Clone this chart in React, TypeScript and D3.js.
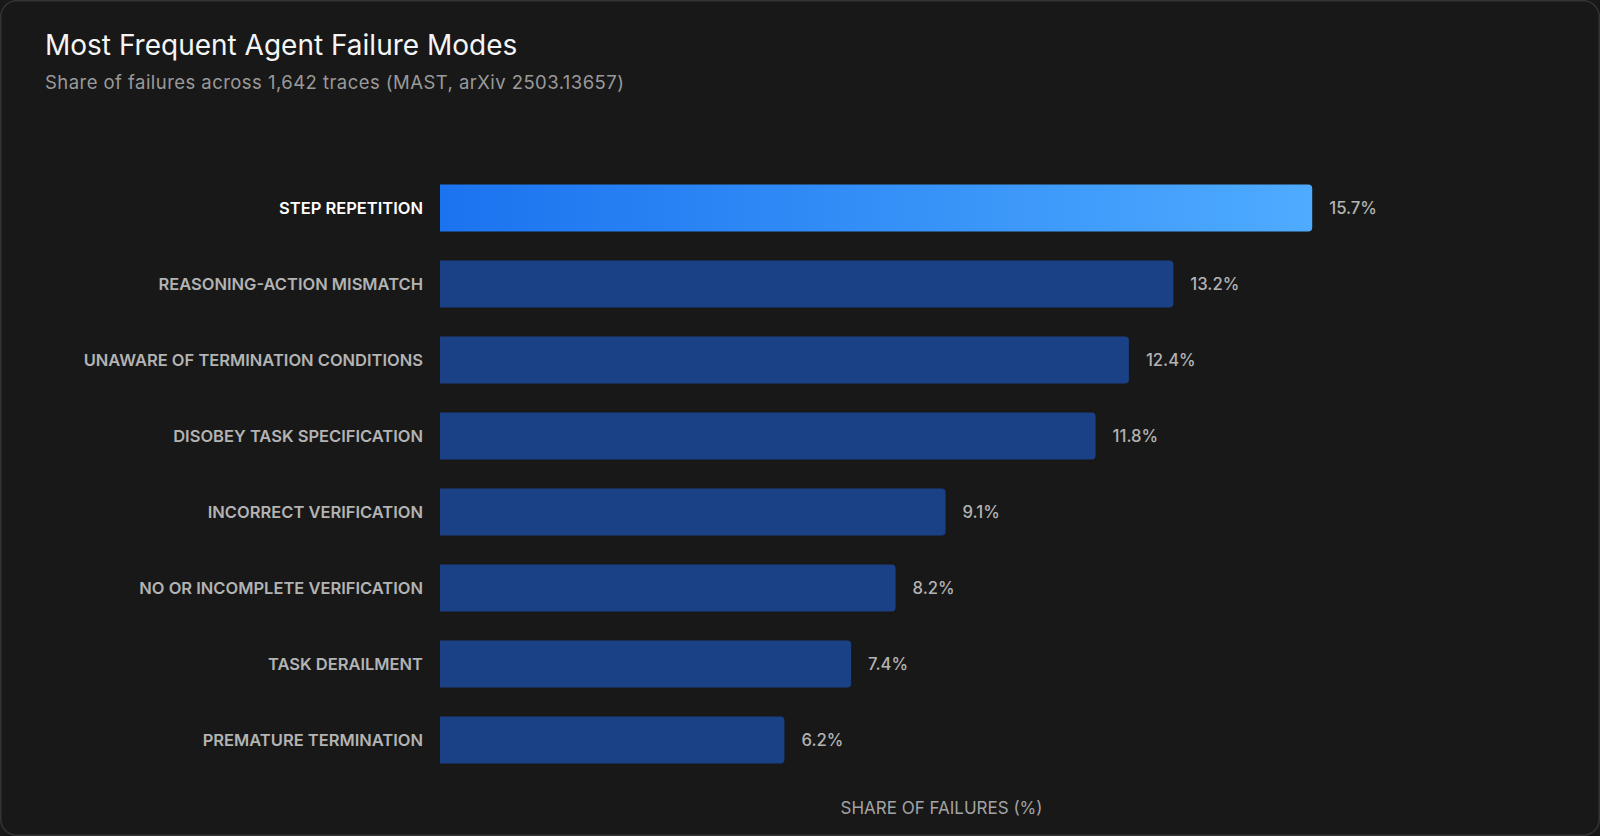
import { useRef, useEffect } from 'react';
import * as d3 from 'd3';

const categories = [
  'STEP REPETITION',
  'REASONING-ACTION MISMATCH',
  'UNAWARE OF TERMINATION CONDITIONS',
  'DISOBEY TASK SPECIFICATION',
  'INCORRECT VERIFICATION',
  'NO OR INCOMPLETE VERIFICATION',
  'TASK DERAILMENT',
  'PREMATURE TERMINATION',
];
const shares = [15.7, 13.2, 12.4, 11.8, 9.1, 8.2, 7.4, 6.2];
const xDomain = [0, 18];

const W = 1600;
const H = 836;
const FONT = 'Inter, "Noto Sans", sans-serif';

export default function App() {
  const svgRef = useRef<SVGSVGElement>(null);

  useEffect(() => {
    document.body.style.margin = '0';
    document.body.style.background = '#181818';
    if (!svgRef.current) return;
    const svg = d3.select(svgRef.current);
    svg.selectAll('*').remove();

    const margin = { top: 170, right: 160, bottom: 58, left: 440 };

    const data = categories.map((c, i) => ({ cat: c, value: shares[i], top: i === 0 }));

    const x = d3.scaleLinear().domain(xDomain).range([margin.left, W - margin.right]);
    const y = d3
      .scaleBand<string>()
      .domain(categories)
      .range([margin.top, H - margin.bottom])
      .paddingInner(0.38)
      .paddingOuter(0.19);

    const defs = svg.append('defs');
    const grad = defs
      .append('linearGradient')
      .attr('id', 'topBar')
      .attr('x1', '0%')
      .attr('x2', '100%')
      .attr('y1', '0%')
      .attr('y2', '0%');
    grad.append('stop').attr('offset', '0%').attr('stop-color', '#1b73ef');
    grad.append('stop').attr('offset', '100%').attr('stop-color', '#4eabff');

    // card
    svg
      .append('rect')
      .attr('x', 0.75)
      .attr('y', 0.75)
      .attr('width', W - 1.5)
      .attr('height', H - 1.5)
      .attr('rx', 16)
      .attr('fill', '#181818')
      .attr('stroke', '#333333')
      .attr('stroke-width', 1.5);

    svg
      .append('text')
      .attr('x', 45)
      .attr('y', 55)
      .attr('fill', '#f5f5f5')
      .style('font', `400 28px ${FONT}`)
      .text('Most Frequent Agent Failure Modes');

    svg
      .append('text')
      .attr('x', 45)
      .attr('y', 89)
      .attr('fill', '#9a9a9a')
      .style('font', `400 18.5px ${FONT}`)
      .style('letter-spacing', '0.45px')
      .text('Share of failures across 1,642 traces (MAST, arXiv 2503.13657)');

    // bars: square on the left, rounded on the right
    const barPath = (x0: number, x1: number, y0: number, h: number) => {
      const r = Math.min(4, (x1 - x0) / 2);
      return `M${x0},${y0}H${x1 - r}Q${x1},${y0} ${x1},${y0 + r}V${y0 + h - r}Q${x1},${y0 + h} ${x1 - r},${y0 + h}H${x0}Z`;
    };

    svg
      .append('g')
      .selectAll('path')
      .data(data)
      .join('path')
      .attr('d', (d) => barPath(x(0), x(d.value), y(d.cat)!, y.bandwidth()))
      .attr('fill', (d) => (d.top ? 'url(#topBar)' : '#1a4186'));

    svg
      .append('g')
      .selectAll('text')
      .data(data)
      .join('text')
      .attr('x', x(0) - 17)
      .attr('y', (d) => y(d.cat)! + y.bandwidth() / 2)
      .attr('dy', '0.36em')
      .attr('text-anchor', 'end')
      .attr('fill', (d) => (d.top ? '#ffffff' : '#b3b3b3'))
      .style('font', `600 16.5px ${FONT}`)
      .text((d) => d.cat);

    svg
      .append('g')
      .selectAll('text')
      .data(data)
      .join('text')
      .attr('x', (d) => x(d.value) + 17)
      .attr('y', (d) => y(d.cat)! + y.bandwidth() / 2)
      .attr('dy', '0.36em')
      .attr('fill', '#b3b3b3')
      .style('font', `500 16.7px ${FONT}`)
      .text((d) => `${d.value}%`);

    svg
      .append('text')
      .attr('x', (x.range()[0] + x.range()[1]) / 2 + 1.5)
      .attr('y', 814)
      .attr('text-anchor', 'middle')
      .attr('fill', '#a3a3a3')
      .style('font', `400 17px ${FONT}`)
      .text('SHARE OF FAILURES (%)');
  }, []);

  return <svg ref={svgRef} width={W} height={H} style={{ display: 'block' }} />;
}
